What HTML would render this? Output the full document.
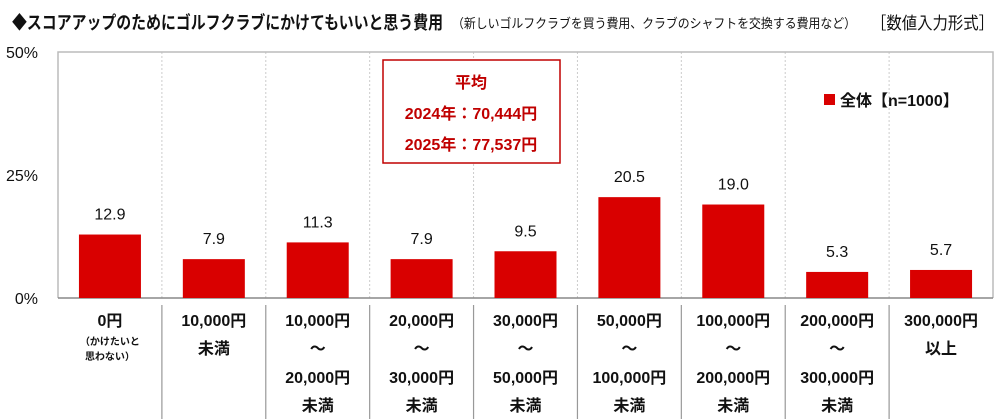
<!DOCTYPE html>
<html><head><meta charset="utf-8"><style>
body{margin:0;background:#fff;}
svg{display:block;font-family:"Liberation Sans","Noto Sans CJK JP",sans-serif;}
</style></head><body>
<svg id="c" width="1000" height="419" viewBox="0 0 1000 419" xmlns="http://www.w3.org/2000/svg">
<text x="12" y="29" font-size="18" font-weight="bold" fill="#111" textLength="431" lengthAdjust="spacingAndGlyphs">◆スコアアップのためにゴルフクラブにかけてもいいと思う費用</text>
<text x="452" y="28" font-size="13" fill="#111" textLength="404" lengthAdjust="spacingAndGlyphs">（新しいゴルフクラブを買う費用、クラブのシャフトを交換する費用など）</text>
<text x="871" y="29" font-size="17" fill="#111" textLength="123" lengthAdjust="spacingAndGlyphs">［数値入力形式］</text>
<g id="plot"></g>
<rect x="383" y="60" width="177" height="103" fill="#fff" stroke="#c00000" stroke-width="1.5"/>
<text x="471" y="88" text-anchor="middle" font-size="16" font-weight="bold" fill="#c00000">平均</text>
<text x="471" y="119" text-anchor="middle" font-size="16" font-weight="bold" fill="#c00000">2024年：70,444円</text>
<text x="471" y="150" text-anchor="middle" font-size="16" font-weight="bold" fill="#c00000">2025年：77,537円</text>
<rect x="824" y="94" width="11" height="11" fill="#d90000"/>
<text x="840" y="106" font-size="16" font-weight="bold" fill="#111">全体【n=1000】</text>
</svg>
<script>
const categories=[["0円"],["10,000円","未満"],["10,000円","～","20,000円","未満"],["20,000円","～","30,000円","未満"],["30,000円","～","50,000円","未満"],["50,000円","～","100,000円","未満"],["100,000円","～","200,000円","未満"],["200,000円","～","300,000円","未満"],["300,000円","以上"]];
const values=[12.9,7.9,11.3,7.9,9.5,20.5,19.0,5.3,5.7];
const yTicks=[0,25,50];
const yTickLabels=["0%","25%","50%"];
const NS="http://www.w3.org/2000/svg";
const g=document.getElementById("plot");
const L=58,R=993,T=52,B=298,YMAX=50;
const colW=(R-L)/categories.length;
const y=v=>B-(v/YMAX)*(B-T);
const xc=i=>L+colW*(i+0.5);
function mk(tag,a){const e=document.createElementNS(NS,tag);for(const k in a)e.setAttribute(k,a[k]);g.appendChild(e);return e;}
yTicks.forEach((t,i)=>{
 const e=mk("text",{x:38,y:y(t)+6,"text-anchor":"end","font-size":16,fill:"#111"});
 e.textContent=yTickLabels[i];
 
 
});
for(let i=1;i<categories.length;i++){
 const x=L+colW*i;
 const d=mk("line",{x1:x,x2:x,y1:T,y2:B,stroke:"#ccc","stroke-dasharray":"2,2"});
 
 
 const s=mk("line",{x1:x,x2:x,y1:305,y2:419,stroke:"#999","stroke-width":1.2});
 
 
}
const fr=mk("path",{d:`M${L},${B}V${T}H${R}V${B}`,fill:"none",stroke:"#bbb","stroke-width":1.5});


const ax=mk("line",{x1:L,x2:R,y1:B,y2:B,stroke:"#888","stroke-width":1.5});


const bw=62;
values.forEach((v,i)=>{
 const b=mk("rect",{x:xc(i)-bw/2,y:y(v),width:bw,height:B-y(v),fill:"#d90000"});
 
 
 const t=mk("text",{x:xc(i),y:y(v)-15,"text-anchor":"middle","font-size":16,fill:"#111"});
 t.textContent=v.toFixed(1);
 
 
});
const lineY=[326,354,383,411];
categories.forEach((c,i)=>{
 c.forEach((s,j)=>{
  const t=mk("text",{x:xc(i),y:lineY[j],"text-anchor":"middle","font-size":16,"font-weight":"bold",fill:"#111"});
  t.textContent=s;
  
  
 });
});
["（かけたいと","思わない）"].forEach((s,j)=>{
 const t=mk("text",{x:xc(0),y:345+j*15,"text-anchor":"middle","font-size":10,"font-weight":"bold",fill:"#111"});
 t.textContent=s;
 
 
});
</script>
</body></html>
